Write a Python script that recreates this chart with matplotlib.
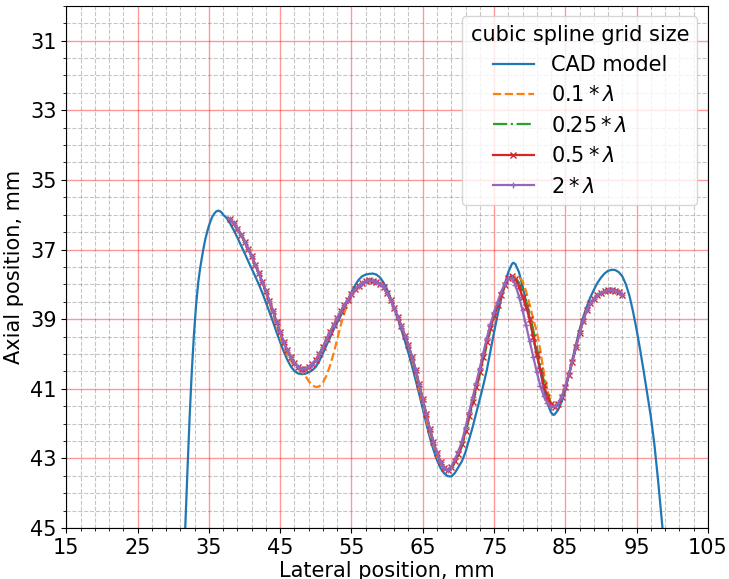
import numpy as np
import matplotlib
matplotlib.use("Agg")
import matplotlib.pyplot as plt
from matplotlib.ticker import MultipleLocator

# CAD reference profile (lateral mm, axial mm)
cad_x = [31.5, 31.7, 32.0, 32.3, 32.6, 32.9, 33.2, 33.5, 33.75, 34.0, 34.25, 34.5, 34.75, 35.0, 35.25,
         35.5, 35.75, 36.0, 36.35, 36.7,
         37.0, 37.5, 38.0, 38.5, 39.0, 39.5, 40.0, 40.5, 41.0, 41.5, 42.0, 42.5, 43.0, 43.5, 44.0,
         44.5, 45.0, 45.5, 46.0, 46.5, 47.0, 47.5, 48.0, 48.5, 49.0, 49.5, 50.0, 50.5, 51.0, 51.5,
         52.0, 52.5, 53.0, 53.5, 54.0, 54.5, 55.0, 55.5, 56.0, 56.5, 57.0, 57.5, 58.0, 58.5, 59.0,
         59.5, 60.0, 60.5, 61.0, 61.5, 62.0, 62.5, 63.0, 63.5, 64.0, 64.5, 65.0, 65.5, 66.0, 66.5,
         67.0, 67.5, 68.0, 68.5, 69.0, 69.5, 70.0, 70.5, 71.0, 71.5, 72.0, 72.5, 73.0, 73.5, 74.0,
         74.5, 75.0, 75.5, 76.0, 76.5, 77.0, 77.5, 77.7, 78.0, 78.5, 79.0, 79.5, 80.0, 80.5, 81.0,
         81.5, 82.0, 82.5, 83.0, 83.3, 83.5, 84.0, 84.5, 85.0, 85.5, 86.0, 86.5, 87.0, 87.5, 88.0,
         88.5, 89.0, 89.5, 90.0, 90.5, 91.0, 91.6, 92.0, 92.5, 93.0, 93.5, 94.0, 94.5, 95.0, 95.5,
         96.0, 96.5, 97.0, 97.5, 98.0, 98.5, 99.0]
cad_y = [45.9, 44.9, 43.3, 41.8, 40.5, 39.45, 38.6, 37.95, 37.57, 37.25, 36.96, 36.7, 36.5, 36.32, 36.17,
         36.05, 35.97, 35.91, 35.88, 35.92,
         36.0, 36.1, 36.26, 36.45, 36.66, 36.88, 37.1, 37.33, 37.55, 37.77, 38.0, 38.25, 38.52, 38.8, 39.08,
         39.38, 39.66, 39.93, 40.17, 40.36, 40.49, 40.56, 40.58, 40.57, 40.53, 40.47, 40.37, 40.2, 39.98, 39.75,
         39.52, 39.3, 39.1, 38.9, 38.68, 38.45, 38.23, 38.03, 37.87, 37.77, 37.72, 37.7, 37.69, 37.72, 37.8,
         37.95, 38.15, 38.4, 38.68, 38.98, 39.3, 39.63, 39.98, 40.35, 40.75, 41.15, 41.58, 42.0, 42.4, 42.75,
         43.05, 43.28, 43.43, 43.51, 43.52, 43.42, 43.25, 43.08, 42.82, 42.46, 42.1, 41.7, 41.3, 40.9, 40.45,
         39.92, 39.38, 38.88, 38.42, 38.0, 37.65, 37.42, 37.38, 37.42, 37.65, 38.05, 38.5, 38.97, 39.52, 40.02,
         40.5, 41.0, 41.42, 41.68, 41.75, 41.74, 41.6, 41.37, 41.05, 40.6, 40.15, 39.72, 39.3, 38.95, 38.65,
         38.38, 38.16, 37.96, 37.81, 37.69, 37.61, 37.58, 37.59, 37.65, 37.77, 38.0, 38.33, 38.78, 39.3, 39.88,
         40.5, 41.15, 41.8, 42.6, 43.6, 44.7, 45.8]

# sample positions of the fitted splines
spline_x = np.arange(38.0, 93.01, 0.5)

y_01 = [36.13, 36.25, 36.40, 36.57, 36.77, 36.98, 37.20, 37.44, 37.68, 37.93,
        38.25, 38.55, 38.87, 39.20, 39.52, 39.80, 40.03, 40.20, 40.32, 40.42,
        40.50, 40.62, 40.78, 40.90, 40.95, 40.93, 40.82, 40.62, 40.33, 39.98,
        39.58, 39.17, 38.82, 38.55, 38.35, 38.18, 38.06, 37.97, 37.92, 37.90,
        37.90, 37.93, 37.98, 38.08, 38.25, 38.45, 38.68, 38.93, 39.20, 39.47,
        39.75, 40.15, 40.55, 41.00, 41.45, 41.88, 42.28, 42.62, 42.93, 43.15,
        43.30, 43.33, 43.24, 43.08, 42.88, 42.60, 42.20, 41.78, 41.37, 40.95,
        40.53, 40.10, 39.65, 39.25, 38.90, 38.60, 38.30, 38.03, 37.86, 37.80,
        37.78, 37.80, 37.90, 38.20, 38.58, 39.00, 39.35, 39.90, 40.55, 41.05,
        41.40, 41.50, 41.43, 41.25, 40.95, 40.60, 40.22, 39.80, 39.40, 39.05,
        38.75, 38.55, 38.42, 38.32, 38.25, 38.20, 38.17, 38.16, 38.18, 38.22,
        38.30]

y_025 = [36.13, 36.25, 36.40, 36.57, 36.77, 36.98, 37.20, 37.44, 37.68, 37.93,
         38.20, 38.48, 38.77, 39.08, 39.38, 39.66, 39.90, 40.10, 40.26, 40.37,
         40.42, 40.42, 40.38, 40.30, 40.17, 40.00, 39.80, 39.57, 39.36, 39.18,
         38.98, 38.78, 38.60, 38.45, 38.28, 38.14, 38.04, 37.96, 37.91, 37.89,
         37.90, 37.93, 37.98, 38.08, 38.25, 38.45, 38.68, 38.93, 39.20, 39.47,
         39.75, 40.08, 40.45, 40.87, 41.30, 41.73, 42.15, 42.52, 42.85, 43.10,
         43.28, 43.34, 43.28, 43.12, 42.92, 42.65, 42.28, 41.86, 41.45, 41.03,
         40.61, 40.18, 39.73, 39.32, 38.96, 38.65, 38.35, 38.07, 37.86, 37.78,
         37.80, 37.95, 38.20, 38.50, 38.85, 39.30, 39.80, 40.30, 40.78, 41.18,
         41.42, 41.52, 41.43, 41.25, 40.95, 40.60, 40.22, 39.80, 39.40, 39.05,
         38.75, 38.55, 38.42, 38.32, 38.25, 38.20, 38.17, 38.16, 38.18, 38.22,
         38.30]

y_05 = [36.13, 36.25, 36.40, 36.57, 36.77, 36.98, 37.20, 37.44, 37.68, 37.93,
        38.20, 38.48, 38.77, 39.08, 39.38, 39.66, 39.90, 40.10, 40.26, 40.37,
        40.42, 40.42, 40.38, 40.30, 40.17, 40.00, 39.80, 39.57, 39.36, 39.18,
        38.98, 38.78, 38.60, 38.45, 38.28, 38.14, 38.04, 37.96, 37.91, 37.89,
        37.90, 37.93, 37.98, 38.08, 38.25, 38.45, 38.68, 38.93, 39.20, 39.47,
        39.75, 40.08, 40.45, 40.87, 41.30, 41.73, 42.15, 42.52, 42.85, 43.10,
        43.28, 43.34, 43.26, 43.08, 42.88, 42.60, 42.20, 41.78, 41.37, 40.95,
        40.53, 40.10, 39.65, 39.25, 38.90, 38.60, 38.30, 38.03, 37.83, 37.75,
        37.85, 38.08, 38.35, 38.65, 39.00, 39.50, 40.00, 40.45, 40.90, 41.25,
        41.45, 41.52, 41.43, 41.25, 40.95, 40.60, 40.22, 39.80, 39.40, 39.05,
        38.75, 38.55, 38.42, 38.32, 38.25, 38.20, 38.17, 38.16, 38.18, 38.22,
        38.30]

y_2 = [36.13, 36.25, 36.40, 36.57, 36.77, 36.98, 37.20, 37.44, 37.68, 37.93,
       38.20, 38.48, 38.77, 39.08, 39.38, 39.66, 39.90, 40.10, 40.26, 40.37,
       40.42, 40.42, 40.38, 40.30, 40.17, 40.00, 39.80, 39.57, 39.36, 39.18,
       38.98, 38.78, 38.60, 38.45, 38.28, 38.14, 38.04, 37.96, 37.91, 37.89,
       37.90, 37.93, 37.98, 38.08, 38.25, 38.45, 38.68, 38.93, 39.20, 39.47,
       39.75, 40.08, 40.45, 40.87, 41.30, 41.73, 42.15, 42.52, 42.85, 43.10,
       43.28, 43.34, 43.24, 43.02, 42.80, 42.50, 42.10, 41.68, 41.25, 40.83,
       40.40, 39.97, 39.53, 39.15, 38.80, 38.50, 38.22, 37.98, 37.82, 37.83,
       38.02, 38.35, 38.75, 39.18, 39.63, 40.08, 40.52, 40.92, 41.22, 41.42,
       41.52, 41.50, 41.40, 41.22, 40.93, 40.58, 40.20, 39.80, 39.40, 39.05,
       38.75, 38.55, 38.42, 38.32, 38.25, 38.20, 38.17, 38.16, 38.18, 38.22,
       38.30]

fig, ax = plt.subplots(figsize=(7.29, 5.79), dpi=100)
fig.subplots_adjust(left=0.091, right=0.971, bottom=0.088, top=0.99)

ax.plot(cad_x, cad_y, color="tab:blue", lw=1.6, label="CAD model")
ax.plot(spline_x, y_01, "--", color="tab:orange", lw=1.6, label=r"$0.1*\lambda$")
ax.plot(spline_x, y_025, "-.", color="tab:green", lw=1.6, label=r"$0.25*\lambda$")
ax.plot(spline_x, y_05, "-", color="tab:red", lw=1.6, marker="x", ms=5, label=r"$0.5*\lambda$")
ax.plot(spline_x, y_2, "-", color="tab:purple", lw=1.6, marker="+", ms=4, label=r"$2*\lambda$")

ax.set_xlim(15, 105)
ax.set_ylim(45, 30)
ax.xaxis.set_major_locator(MultipleLocator(10, offset=5))
ax.xaxis.set_minor_locator(MultipleLocator(2, offset=1))
ax.yaxis.set_major_locator(MultipleLocator(2, offset=1))
ax.yaxis.set_minor_locator(MultipleLocator(0.5))

ax.grid(which="major", color="red", alpha=0.4, lw=1)
ax.grid(which="minor", color="gray", ls="--", alpha=0.45, lw=0.8)
ax.tick_params(labelsize=15)

ax.set_xlabel("Lateral position, mm", fontsize=15, labelpad=2)
ax.set_ylabel("Axial position, mm", fontsize=15)
ax.legend(title="cubic spline grid size", fontsize=15, title_fontsize=15, loc="upper right")

plt.savefig("out.png")
